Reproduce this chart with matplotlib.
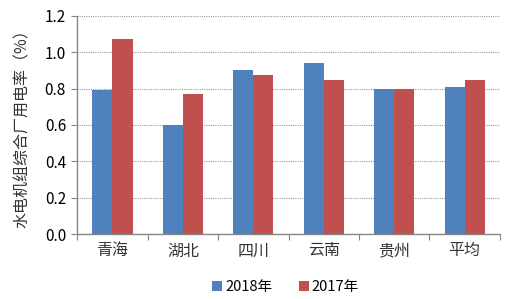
import numpy as np
import matplotlib.pyplot as plt

plt.rcParams['font.family'] = ['Noto Sans CJK SC', 'DejaVu Sans']

# data
provinces = ['青海', '湖北', '四川', '云南', '贵州', '平均']
rate_2018 = [0.79, 0.60, 0.90, 0.94, 0.80, 0.81]
rate_2017 = [1.07, 0.77, 0.875, 0.85, 0.80, 0.85]
series_names = ['2018年', '2017年']
yticks = [0.0, 0.2, 0.4, 0.6, 0.8, 1.0, 1.2]

blue = '#4F81BD'
red = '#C0504D'

fig = plt.figure(figsize=(5.29, 2.99), dpi=100)
ax = fig.add_axes([0.146, 0.217, 0.799, 0.730])

x = np.arange(len(provinces))
w = 0.285
ax.bar(x - w/2, rate_2018, w, color=blue, label=series_names[0], zorder=3)
ax.bar(x + w/2, rate_2017, w, color=red, label=series_names[1], zorder=3)

ax.set_xlim(-0.5, len(provinces) - 0.5)
ax.set_ylim(0, 1.2)
ax.set_yticks(yticks)
ax.set_yticklabels(['%.1f' % v for v in yticks], fontsize=11)
ax.yaxis.grid(True, linestyle=(0, (1, 1)), color='#9a9a9a', linewidth=0.8, zorder=0)

# category ticks between groups
ax.set_xticks(np.arange(-0.5, len(provinces), 1.0))
ax.set_xticklabels([])
ax.set_xticks(x, minor=True)
ax.set_xticklabels(provinces, minor=True, fontsize=11.5, color='#333333')
ax.tick_params(axis='x', which='minor', length=0, pad=6)
ax.tick_params(axis='x', which='major', length=4, direction='out', color='#868686')
ax.tick_params(axis='y', length=4, direction='out', color='#868686', pad=4)

for s in ['top', 'right']:
    ax.spines[s].set_visible(False)
for s in ['left', 'bottom']:
    ax.spines[s].set_color('#868686')
    ax.spines[s].set_linewidth(1.0)

ax.set_ylabel('水电机组综合厂用电率（%）', fontsize=11.5, color='#333333', labelpad=10)

fig.legend(loc='center', bbox_to_anchor=(0.54, 0.04), ncol=2, frameon=False,
           fontsize=10.5, handlelength=0.7, handleheight=0.7, handletextpad=0.2,
           columnspacing=1.8)

plt.savefig('out.png', dpi=100)
